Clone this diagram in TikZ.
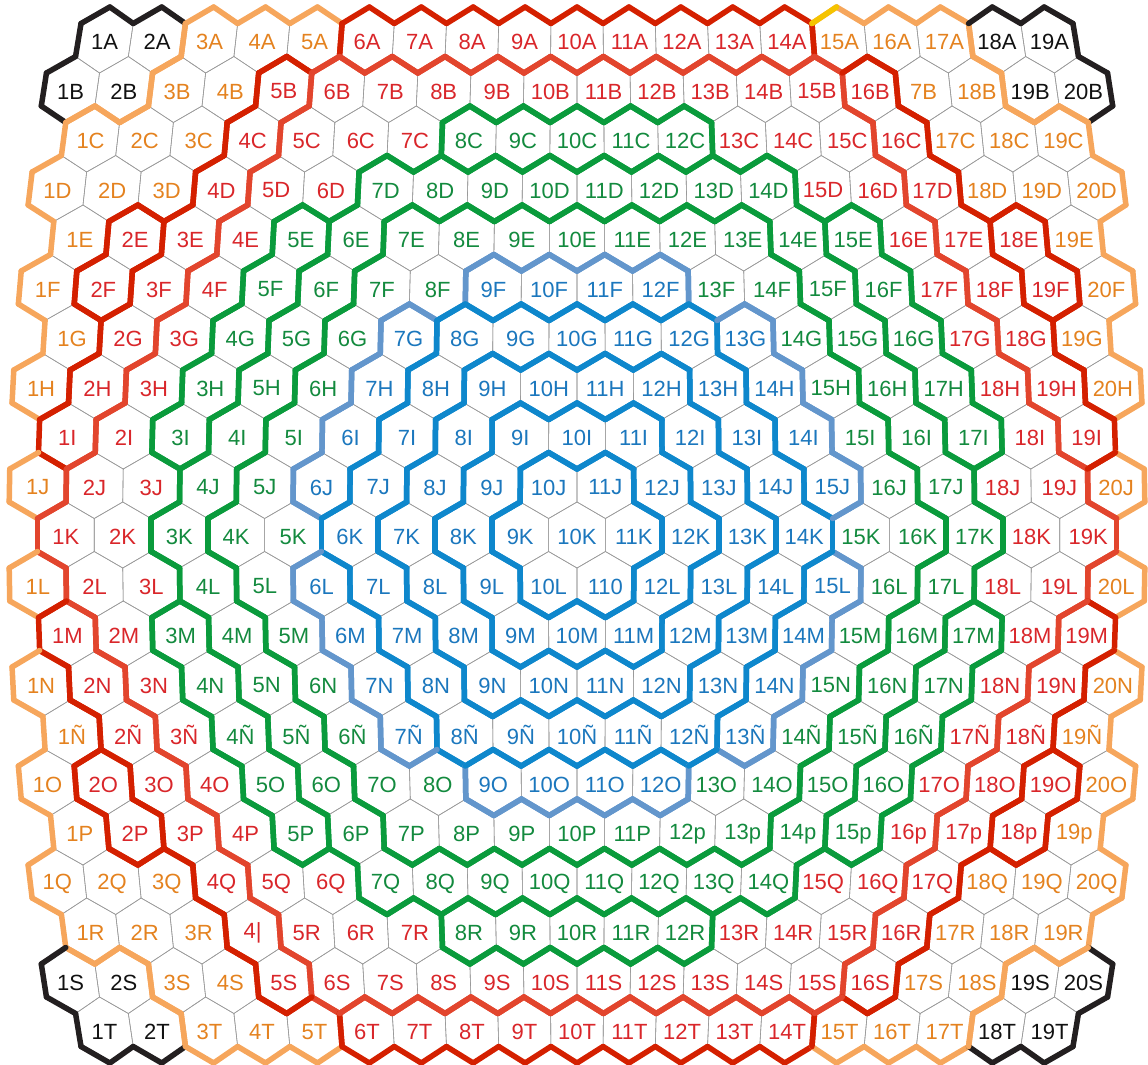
\documentclass[tikz,border=0pt]{standalone}
\usepackage{fontspec}
\setmainfont{Liberation Sans}
\usetikzlibrary{calc}

% ring line colours
\definecolor{lnblue}{HTML}{0E87CC}
\definecolor{lnsteel}{HTML}{6396CC}
\definecolor{lngreen}{HTML}{0A9B3C}
\definecolor{lnred}{HTML}{E2452D}
\definecolor{lndark}{HTML}{D42000}
\definecolor{lnorange}{HTML}{F6A65C}
\definecolor{lnblack}{HTML}{231F20}
\definecolor{lnyellow}{HTML}{F5C400}
\definecolor{gridgray}{HTML}{9A9A9A}
% label colours
\definecolor{txblue}{HTML}{1B77BD}
\definecolor{txgreen}{HTML}{138A3E}
\definecolor{txred}{HTML}{D9262A}
\definecolor{txorange}{HTML}{E4821F}
\definecolor{txblack}{HTML}{111111}

% ring level of every cell: 14 black, 13 orange, 12..10 red, 8..6 green, 5..1 blue
\newcommand\setrow[2]{%
  \edef\tmplist{#2}%
  \foreach \lval [count=\kk] in \tmplist {\expandafter\xdef\csname L-#1-\kk\endcsname{\lval}}}
\def\rA{14,14,13,13,13,11,11,11,11,11,11,11,11,11,13,13,13,14,14}
\def\rB{14,14,13,13,11,10,10,10,10,10,10,10,10,10,10,11,13,13,14,14}
\def\rC{13,13,13,11,10,10,10,8,8,8,8,8,10,10,10,11,13,13,13}
\def\rD{13,13,13,11,10,10,7,7,7,7,7,7,7,7,10,10,11,13,13,13}
\def\rE{13,12,11,10,8,7,6,6,6,6,6,6,6,7,8,10,11,12,13}
\def\rF{13,12,11,10,8,7,6,6,5,5,5,5,6,6,7,8,10,11,12,13}
\def\rG{13,11,10,8,7,6,5,4,4,4,4,4,5,6,7,8,10,11,13}
\def\rH{13,11,10,8,7,6,5,4,3,3,3,3,4,5,6,7,8,10,11,13}
\def\rI{11,10,8,7,6,5,4,3,2,2,2,3,4,5,6,7,8,10,11}
\def\rJ{13,10,10,7,6,5,4,3,2,1,1,2,3,4,5,6,7,10,10,13}
\def\rK{10,10,7,6,6,4,3,2,1,1,1,2,3,4,6,6,7,10,10}
\setrow{0}{\rA}\setrow{1}{\rB}\setrow{2}{\rC}\setrow{3}{\rD}\setrow{4}{\rE}
\setrow{5}{\rF}\setrow{6}{\rG}\setrow{7}{\rH}\setrow{8}{\rI}\setrow{9}{\rJ}
\setrow{10}{\rK}
\setrow{11}{\rJ}\setrow{12}{\rI}\setrow{13}{\rH}\setrow{14}{\rG}\setrow{15}{\rF}
\setrow{16}{\rE}\setrow{17}{\rD}\setrow{18}{\rC}\setrow{19}{\rB}\setrow{20}{\rA}

\newcommand\lv[2]{\ifcsname L-#1-#2\endcsname\csname L-#1-#2\endcsname\else0\fi}
\newcommand\colof[1]{\ifcase#1 white\or lnblue\or lnblue\or lnblue\or lnblue\or lnsteel\or lngreen\or lngreen\or lngreen\or lnred\or lnred\or lndark\or lndark\or lnorange\or lnblack\fi}
\newcommand\txtof[1]{\ifcase#1 black\or txblue\or txblue\or txblue\or txblue\or txblue\or txgreen\or txgreen\or txgreen\or txred\or txred\or txred\or txred\or txorange\or txblack\fi}

% row letters and the odd labels
\foreach \lt [count=\kk from 0] in {A,B,C,D,E,F,G,H,I,J,K,L,M,N,Ñ,O,P,Q,R,S,T}
  {\expandafter\xdef\csname RL-\kk\endcsname{\lt}}
\expandafter\def\csname X-1-17\endcsname{7B}
\expandafter\def\csname X-7-4\endcsname{3H}
\expandafter\def\csname X-11-11\endcsname{110}
\expandafter\def\csname X-18-4\endcsname{4|}
\foreach \kk in {12,...,19}{\expandafter\xdef\csname X-16-\kk\endcsname{\kk p}}

% hex corners, the map bulges in the middle
\newcommand\hexv[3]{%
  \pgfmathsetmacro\vy{#3}%
  \pgfmathsetmacro\vx{577+(#2-10)*(52.5+4.3*(1-((\vy-535)/495)^2))}%
  \coordinate (#1) at (\vx,\vy);}
\newcommand\hexpts[2]{%
  \pgfmathsetmacro\hu{#2-0.5*isodd(#1)}%
  \pgfmathsetmacro\hy{40+49.5*#1}%
  \hexv{h0}{\hu}{\hy-33}%
  \hexv{h1}{\hu+0.5}{\hy-16.5}%
  \hexv{h2}{\hu+0.5}{\hy+16.5}%
  \hexv{h3}{\hu}{\hy+33}%
  \hexv{h4}{\hu-0.5}{\hy+16.5}%
  \hexv{h5}{\hu-0.5}{\hy-16.5}}
\newcommand\hedge[4]{%
  \ifnum#2=0\relax
    \edef\ecol{\colof{#1}}\draw[ring,draw=\ecol] (#3) -- (#4);%
  \else
    \ifnum#1=#2\relax\else
      \ifnum#1<#2\relax\edef\ecol{\colof{#1}}\else\edef\ecol{\colof{#2}}\fi
      \draw[ring,draw=\ecol] (#3) -- (#4);%
    \fi
  \fi}

\begin{document}
\begin{tikzpicture}[x=1pt,y=-1pt,
    grid/.style={draw=gridgray, line width=0.6pt},
    ring/.style={line width=5.5pt, line cap=round, line join=round},
    lbl/.style={font=\fontsize{22}{24}\selectfont, inner sep=0pt}]
  \useasboundingbox (0,0) rectangle (1148,1065);
  % thin grid
  \foreach \hr in {0,...,20}{
    \pgfmathtruncatemacro\nc{isodd(\hr)?20:19}
    \foreach \hc in {1,...,\nc}{
      \hexpts{\hr}{\hc}
      \draw[grid] (h0) -- (h1) -- (h2) -- (h3) -- (h4) -- (h5) -- cycle;
    }
  }
  % ring borders
  \foreach \hr in {0,...,20}{
    \pgfmathtruncatemacro\nc{isodd(\hr)?20:19}
    \foreach \hc in {1,...,\nc}{
      \hexpts{\hr}{\hc}
      \edef\me{\lv{\hr}{\hc}}%
      \ifodd\hr\relax
        \edef\cL{\the\numexpr\hc-1\relax}\edef\cR{\hc}%
      \else
        \edef\cL{\hc}\edef\cR{\the\numexpr\hc+1\relax}%
      \fi
      \edef\rU{\the\numexpr\hr-1\relax}\edef\rD{\the\numexpr\hr+1\relax}%
      \edef\cP{\the\numexpr\hc+1\relax}\edef\cM{\the\numexpr\hc-1\relax}%
      \edef\nUR{\lv{\rU}{\cR}}\edef\nR{\lv{\hr}{\cP}}\edef\nDR{\lv{\rD}{\cR}}%
      \edef\nDL{\lv{\rD}{\cL}}\edef\nL{\lv{\hr}{\cM}}\edef\nUL{\lv{\rU}{\cL}}%
      \hedge{\me}{\nUR}{h0}{h1}%
      \hedge{\me}{\nR}{h1}{h2}%
      \hedge{\me}{\nDR}{h2}{h3}%
      \hedge{\me}{\nDL}{h3}{h4}%
      \hedge{\me}{\nL}{h4}{h5}%
      \hedge{\me}{\nUL}{h5}{h0}%
    }
  }
  \hexpts{0}{15}
  \draw[ring, draw=lnyellow] (h5) -- (h0);
  % cell labels
  \foreach \hr in {0,...,20}{
    \pgfmathtruncatemacro\nc{isodd(\hr)?20:19}
    \foreach \hc in {1,...,\nc}{
      \pgfmathsetmacro\hu{\hc-0.5*isodd(\hr)}
      \pgfmathsetmacro\hy{40+49.5*\hr}
      \pgfmathsetmacro\hx{577+(\hu-10)*(52.5+4.3*(1-((\hy-535)/495)^2))}
      \edef\tcol{\txtof{\lv{\hr}{\hc}}}%
      \ifcsname X-\hr-\hc\endcsname
        \edef\ltxt{\csname X-\hr-\hc\endcsname}%
      \else
        \edef\ltxt{\hc\csname RL-\hr\endcsname}%
      \fi
      \node[lbl, text=\tcol] (n\hr-\hc) at (\hx,\hy+2) {\ltxt};
    }
  }
\end{tikzpicture}
\end{document}
